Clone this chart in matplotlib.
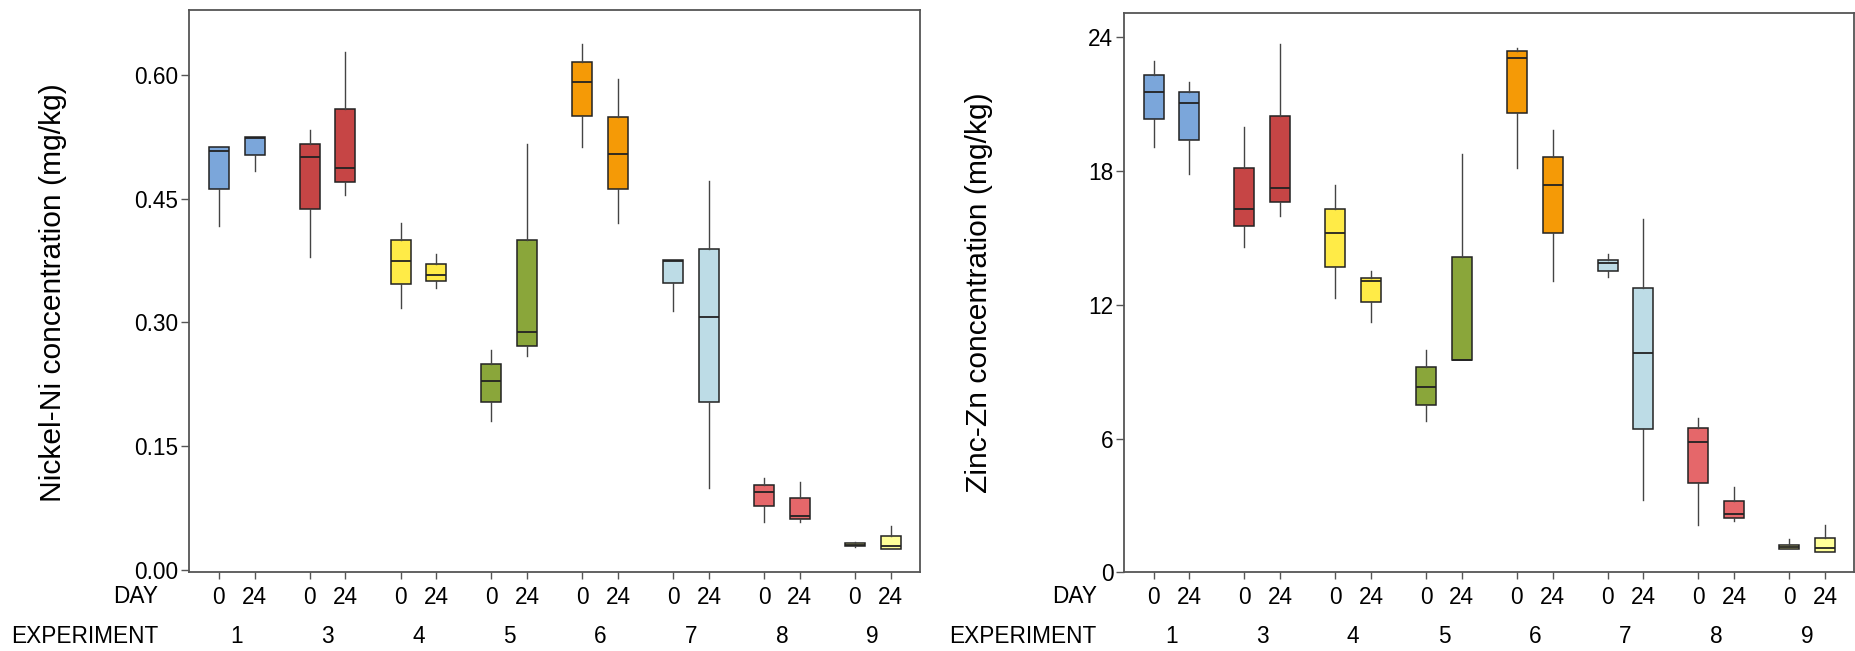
import matplotlib
matplotlib.use("Agg")
import matplotlib.pyplot as plt
from matplotlib import transforms

plt.rcParams['font.family'] = ['Liberation Sans', 'DejaVu Sans']

# experiments and sampling days
experiments = ['1', '3', '4', '5', '6', '7', '8', '9']
days = ['0', '24']
colors = ['#7BA6DA', '#C64545', '#FFEB47', '#8AA63A',
          '#F59A06', '#BDDCE6', '#E5676A', '#FFFF99']

# Nickel (mg/kg), order: exp1 day0, exp1 day24, exp3 day0, ...
ni_lo = [0.417, 0.483, 0.379, 0.454, 0.317, 0.342, 0.181, 0.259,
         0.512, 0.421, 0.314, 0.099, 0.058, 0.058, 0.028, 0.025]
ni_q1 = [0.462, 0.503, 0.437, 0.470, 0.346, 0.350, 0.204, 0.271,
         0.550, 0.462, 0.348, 0.203, 0.078, 0.062, 0.029, 0.025]
ni_med = [0.508, 0.523, 0.500, 0.487, 0.375, 0.358, 0.229, 0.288,
          0.591, 0.504, 0.375, 0.306, 0.0945, 0.0655, 0.0305, 0.029]
ni_q3 = [0.512, 0.5245, 0.516, 0.558, 0.400, 0.3705, 0.250, 0.400,
         0.616, 0.549, 0.376, 0.389, 0.103, 0.087, 0.033, 0.0415]
ni_hi = [0.512, 0.5245, 0.533, 0.628, 0.420, 0.383, 0.2665, 0.516,
         0.637, 0.595, 0.376, 0.471, 0.111, 0.1065, 0.0335, 0.053]

# Zinc (mg/kg)
zn_lo = [19.08, 17.86, 14.61, 16.0, 12.31, 11.23, 6.8, 9.53,
         18.15, 13.07, 13.24, 3.23, 2.15, 2.32, 1.05, 0.91]
zn_q1 = [20.32, 19.38, 15.52, 16.61, 13.69, 12.14, 7.52, 9.53,
         20.62, 15.22, 13.54, 6.45, 4.0, 2.45, 1.05, 0.91]
zn_med = [21.53, 21.07, 16.30, 17.23, 15.22, 13.07, 8.30, 9.53,
          23.08, 17.38, 13.86, 9.84, 5.84, 2.62, 1.15, 1.08]
zn_q3 = [22.29, 21.53, 18.14, 20.46, 16.30, 13.22, 9.21, 14.13,
         23.38, 18.62, 14.0, 12.78, 6.47, 3.21, 1.22, 1.54]
zn_hi = [22.92, 21.99, 19.98, 23.70, 17.36, 13.52, 9.98, 18.75,
         23.52, 19.83, 14.28, 15.85, 6.91, 3.83, 1.52, 2.13]

group_step = 2.54
positions = []
for i in range(len(experiments)):
    positions += [i * group_step, i * group_step + 1]

fig = plt.figure(figsize=(18.56, 6.51), dpi=100)
ax1 = fig.add_axes([0.1021, 0.1206, 0.3936, 0.864])
ax2 = fig.add_axes([0.6058, 0.1206, 0.3933, 0.859])


def draw_panel(ax, lo, q1, med, q3, hi, ylim, yticks, fmt, ylabel, label_x):
    stats = []
    for k in range(len(positions)):
        stats.append(dict(whislo=lo[k], q1=q1[k], med=med[k], q3=q3[k], whishi=hi[k]))
    bp = ax.bxp(stats, positions=positions, widths=0.56, patch_artist=True,
                showcaps=False, showfliers=False,
                boxprops=dict(edgecolor='#222222', linewidth=1.1),
                whiskerprops=dict(color='#444444', linewidth=1.0),
                medianprops=dict(color='#222222', linewidth=1.3))
    for k, box in enumerate(bp['boxes']):
        box.set_facecolor(colors[k // 2])

    ax.set_xlim(-0.82, 19.6)
    ax.set_ylim(*ylim)
    ax.set_yticks(yticks)
    ax.set_yticklabels([fmt.format(v) for v in yticks])
    ax.set_xticks(positions)
    ax.set_xticklabels(days * len(experiments))
    ax.tick_params(axis='both', labelsize=16.3, color='#555555', direction='out')
    ax.tick_params(axis='y', length=6, width=1.0, pad=2)
    ax.tick_params(axis='x', length=5, width=1.0, pad=5)
    for sp in ax.spines.values():
        sp.set_color('#555555')
        sp.set_linewidth(1.3)

    # experiment numbers under each pair of boxes
    trans = transforms.blended_transform_factory(ax.transData, fig.transFigure)
    for i, e in enumerate(experiments):
        ax.text(i * group_step + 0.5, 0.0127, e, transform=trans,
                ha='center', va='baseline', fontsize=16.3)

    fig.text(label_x, 0.55, ylabel, rotation=90, ha='center', va='center', fontsize=21.6)


draw_panel(ax1, ni_lo, ni_q1, ni_med, ni_q3, ni_hi, (-0.003, 0.6785),
           [0.0, 0.15, 0.30, 0.45, 0.60], '{:.2f}',
           'Nickel-Ni concentration (mg/kg)', 53.5 / 1856)
draw_panel(ax2, zn_lo, zn_q1, zn_med, zn_q3, zn_hi, (0, 25.08),
           [0, 6, 12, 18, 24], '{:d}',
           'Zinc-Zn concentration (mg/kg)', 979 / 1856)

# row captions for the two category levels
for right_px in (158.3, 1096.7):
    fig.text(right_px / 1856, 0.0733, 'DAY', ha='right', va='baseline', fontsize=16.3)
    fig.text(right_px / 1856, 0.0127, 'EXPERIMENT', ha='right', va='baseline', fontsize=16.3)

fig.savefig('out.png', dpi=100)
